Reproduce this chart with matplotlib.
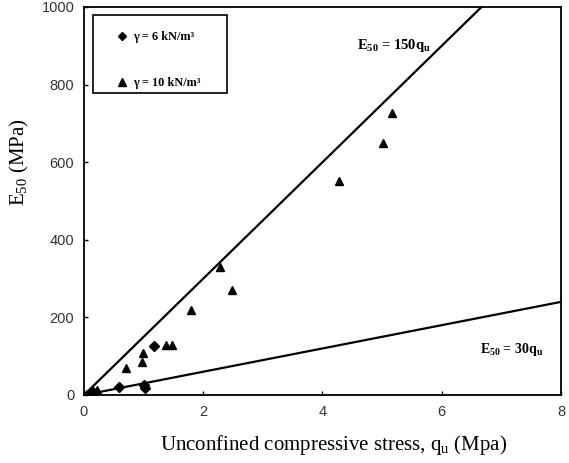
import matplotlib
matplotlib.use("Agg")
import matplotlib.pyplot as plt
from matplotlib.patches import Rectangle
import numpy as np

# Data
q6 = [0.05, 0.15, 0.59, 1.00, 1.02, 1.18]
e6 = [0, 8, 20, 26, 18, 126]
q10 = [0.21, 0.70, 0.97, 0.99, 1.38, 1.48, 1.80, 2.28, 2.48, 4.27, 5.01, 5.17]
e10 = [13, 69, 86, 107, 129, 129, 219, 329, 271, 552, 649, 728]
slopes = [150, 30]
x_ticks = [0, 2, 4, 6, 8]
y_ticks = [0, 200, 400, 600, 800, 1000]

fig = plt.figure(figsize=(5.69, 4.63), dpi=100)
ax = fig.add_axes([84/569, 1-395/463, 477/569, 388/463])

xs = np.array([0, 8])
for s in slopes:
    ax.plot(xs, s*xs, color="black", lw=1.6, zorder=2)

ax.plot(q6, e6, linestyle="none", marker="D", ms=5, color="black",
        label="γ = 6 kN/m³", zorder=3)
ax.plot(q10, e10, linestyle="none", marker="^", ms=6, color="black",
        label="γ = 10 kN/m³", zorder=3)

ax.set_xlim(0, 8)
ax.set_ylim(0, 1000)
ax.set_xticks(x_ticks)
ax.set_yticks(y_ticks)
ax.tick_params(direction="in", length=3, width=1, labelsize=10.5, pad=7)
for lab in ax.get_xticklabels() + ax.get_yticklabels():
    lab.set_fontfamily("Liberation Sans")
    lab.set_color("#333333")
for sp in ax.spines.values():
    sp.set_linewidth(1.3)

serif = "Liberation Serif"
plt.rcParams["mathtext.fontset"] = "custom"
plt.rcParams["mathtext.rm"] = serif
plt.rcParams["mathtext.bf"] = serif + ":bold"
ax.set_xlabel(r"Unconfined compressive stress, q$_{\mathregular{u}}$ (Mpa)",
              fontfamily=serif, fontsize=15)
ax.xaxis.set_label_coords(0.524, -0.098)
ax.set_ylabel(r"E$_{\mathregular{50}}$ (MPa)", fontfamily=serif, fontsize=15)
ax.yaxis.set_label_coords(-0.112, 0.6)
ax.text(5.19, 902, r"E$_{\mathbf{50}}$ = 150q$_{\mathbf{u}}$", fontfamily=serif,
        fontweight="bold", fontsize=10.5, ha="center", va="center")
ax.text(7.17, 116, r"E$_{\mathbf{50}}$ = 30q$_{\mathbf{u}}$", fontfamily=serif,
        fontweight="bold", fontsize=10, ha="center", va="center")

# legend frame
ax.add_patch(Rectangle((0.019, 0.778), 0.281, 0.201, transform=ax.transAxes,
                       facecolor="white", edgecolor="black", lw=1.2, zorder=4))
leg = ax.legend(loc="upper left", bbox_to_anchor=(0.068, 0.937), frameon=False,
                borderpad=0, labelspacing=2.75,
                handlelength=0.95, handletextpad=0.4, borderaxespad=0,
                prop={"family": serif, "size": 8.8, "weight": "bold"}, markerscale=0.85)
leg.set_zorder(5)

fig.savefig("out.png", dpi=100)
